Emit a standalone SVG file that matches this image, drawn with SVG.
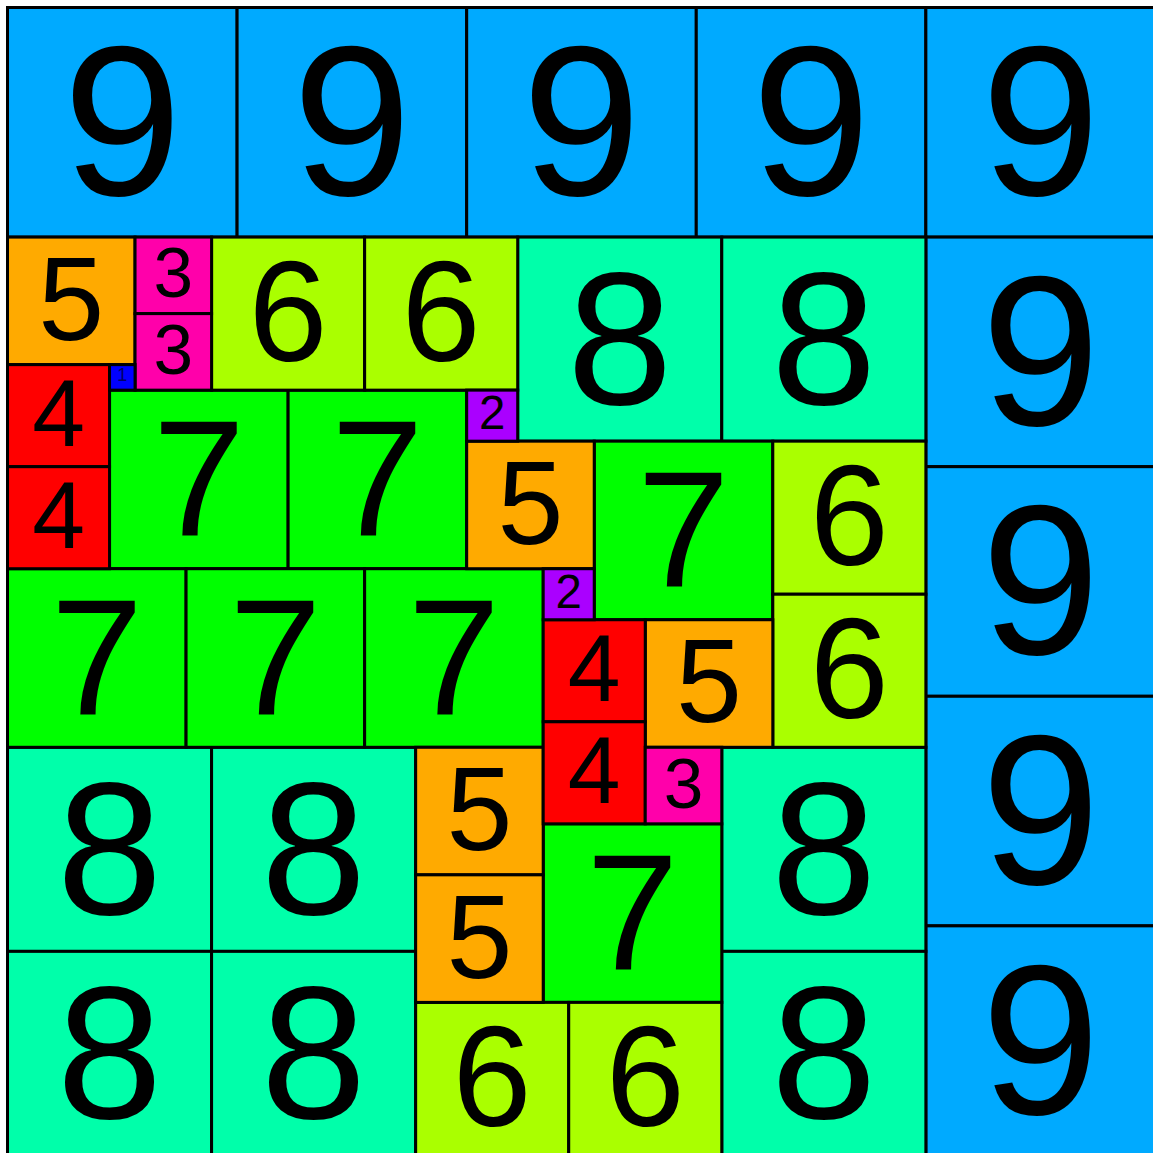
<svg xmlns="http://www.w3.org/2000/svg" width="1153" height="1153" viewBox="0 0 1153 1153">
<style>
rect.s{stroke:#000;stroke-width:3}
.c9{fill:#00AAFF}.c8{fill:#00FFAA}.c7{fill:#00FF00}.c6{fill:#AAFF00}.c5{fill:#FFAA00}.c4{fill:#FF0000}.c3{fill:#FF00AA}.c2{fill:#AA00FF}.c1{fill:#0000FF}
text{font-family:"Liberation Sans",Arial,sans-serif;fill:#000;text-anchor:middle}
.t9{font-size:213.5px}.t8{font-size:189.8px}.t7{font-size:166px}.t6{font-size:142.3px}.t5{font-size:118.6px}.t4{font-size:94.9px}.t3{font-size:71.2px}.t2{font-size:47.4px}.t1{font-size:18px;fill:#000066}
</style>
<rect x="0" y="0" width="1153" height="1153" fill="#fff"/>
<g id="nodes">
<g id="n9a"><rect class="s c9" x="7.5" y="7.5" width="229.59" height="229.59"/><text class="t9" x="122.3" y="195.25">9</text></g>
<g id="n9b"><rect class="s c9" x="237.09" y="7.5" width="229.59" height="229.59"/><text class="t9" x="351.89" y="195.25">9</text></g>
<g id="n9c"><rect class="s c9" x="466.68" y="7.5" width="229.59" height="229.59"/><text class="t9" x="581.48" y="195.25">9</text></g>
<g id="n9d"><rect class="s c9" x="696.27" y="7.5" width="229.59" height="229.59"/><text class="t9" x="811.07" y="195.25">9</text></g>
<g id="n9e"><rect class="s c9" x="925.86" y="7.5" width="229.59" height="229.59"/><text class="t9" x="1040.66" y="195.25">9</text></g>
<g id="n9f"><rect class="s c9" x="925.86" y="237.09" width="229.59" height="229.59"/><text class="t9" x="1040.66" y="424.84">9</text></g>
<g id="n9g"><rect class="s c9" x="925.86" y="466.68" width="229.59" height="229.59"/><text class="t9" x="1040.66" y="654.43">9</text></g>
<g id="n9h"><rect class="s c9" x="925.86" y="696.27" width="229.59" height="229.59"/><text class="t9" x="1040.66" y="884.02">9</text></g>
<g id="n9i"><rect class="s c9" x="925.86" y="925.86" width="229.59" height="229.59"/><text class="t9" x="1040.66" y="1113.61">9</text></g>

<g id="n8a"><rect class="s c8" x="517.7" y="237.09" width="204.08" height="204.08"/><text class="t8" x="619.74" y="403.59">8</text></g>
<g id="n8b"><rect class="s c8" x="721.78" y="237.09" width="204.08" height="204.08"/><text class="t8" x="823.82" y="403.59">8</text></g>
<g id="n8c"><rect class="s c8" x="721.78" y="747.29" width="204.08" height="204.08"/><text class="t8" x="823.82" y="913.79">8</text></g>
<g id="n8d"><rect class="s c8" x="721.78" y="951.37" width="204.08" height="204.08"/><text class="t8" x="823.82" y="1117.87">8</text></g>
<g id="n8e"><rect class="s c8" x="7.5" y="747.29" width="204.08" height="204.08"/><text class="t8" x="109.54" y="913.79">8</text></g>
<g id="n8f"><rect class="s c8" x="211.58" y="747.29" width="204.08" height="204.08"/><text class="t8" x="313.62" y="913.79">8</text></g>
<g id="n8g"><rect class="s c8" x="7.5" y="951.37" width="204.08" height="204.08"/><text class="t8" x="109.54" y="1117.87">8</text></g>
<g id="n8h"><rect class="s c8" x="211.58" y="951.37" width="204.08" height="204.08"/><text class="t8" x="313.62" y="1117.87">8</text></g>

<g id="n7a"><rect class="s c7" x="109.54" y="390.15" width="178.57" height="178.57"/><text class="t7" x="198.83" y="535.4">7</text></g>
<g id="n7b"><rect class="s c7" x="288.11" y="390.15" width="178.57" height="178.57"/><text class="t7" x="377.4" y="535.4">7</text></g>
<g id="n7c"><rect class="s c7" x="594.23" y="441.17" width="178.57" height="178.57"/><text class="t7" x="683.52" y="586.42">7</text></g>
<g id="n7d"><rect class="s c7" x="7.5" y="568.72" width="178.57" height="178.57"/><text class="t7" x="96.79" y="713.97">7</text></g>
<g id="n7e"><rect class="s c7" x="186.07" y="568.72" width="178.57" height="178.57"/><text class="t7" x="275.36" y="713.97">7</text></g>
<g id="n7f"><rect class="s c7" x="364.64" y="568.72" width="178.57" height="178.57"/><text class="t7" x="453.93" y="713.97">7</text></g>
<g id="n7g"><rect class="s c7" x="543.21" y="823.82" width="178.57" height="178.57"/><text class="t7" x="632.5" y="969.07">7</text></g>

<g id="n6a"><rect class="s c6" x="211.58" y="237.09" width="153.06" height="153.06"/><text class="t6" x="288.11" y="361.09">6</text></g>
<g id="n6b"><rect class="s c6" x="364.64" y="237.09" width="153.06" height="153.06"/><text class="t6" x="441.17" y="361.09">6</text></g>
<g id="n6c"><rect class="s c6" x="772.8" y="441.17" width="153.06" height="153.06"/><text class="t6" x="849.33" y="565.17">6</text></g>
<g id="n6d"><rect class="s c6" x="772.8" y="594.23" width="153.06" height="153.06"/><text class="t6" x="849.33" y="718.23">6</text></g>
<g id="n6e"><rect class="s c6" x="415.66" y="1002.39" width="153.06" height="153.06"/><text class="t6" x="492.19" y="1126.39">6</text></g>
<g id="n6f"><rect class="s c6" x="568.72" y="1002.39" width="153.06" height="153.06"/><text class="t6" x="645.25" y="1126.39">6</text></g>

<g id="n5a"><rect class="s c5" x="7.5" y="237.09" width="127.55" height="127.55"/><text class="t5" x="71.28" y="339.84">5</text></g>
<g id="n5b"><rect class="s c5" x="466.68" y="441.17" width="127.55" height="127.55"/><text class="t5" x="530.46" y="543.92">5</text></g>
<g id="n5c"><rect class="s c5" x="645.25" y="619.74" width="127.55" height="127.55"/><text class="t5" x="709.03" y="722.49">5</text></g>
<g id="n5d"><rect class="s c5" x="415.66" y="747.29" width="127.55" height="127.55"/><text class="t5" x="479.44" y="850.04">5</text></g>
<g id="n5e"><rect class="s c5" x="415.66" y="874.84" width="127.55" height="127.55"/><text class="t5" x="479.44" y="977.59">5</text></g>

<g id="n4a"><rect class="s c4" x="7.5" y="364.64" width="102.04" height="102.04"/><text class="t4" x="58.52" y="446.14">4</text></g>
<g id="n4b"><rect class="s c4" x="7.5" y="466.68" width="102.04" height="102.04"/><text class="t4" x="58.52" y="548.18">4</text></g>
<g id="n4c"><rect class="s c4" x="543.21" y="619.74" width="102.04" height="102.04"/><text class="t4" x="594.23" y="701.24">4</text></g>
<g id="n4d"><rect class="s c4" x="543.21" y="721.78" width="102.04" height="102.04"/><text class="t4" x="594.23" y="803.28">4</text></g>

<g id="n3a"><rect class="s c3" x="135.05" y="237.09" width="76.53" height="76.53"/><text class="t3" x="173.32" y="297.34">3</text></g>
<g id="n3b"><rect class="s c3" x="135.05" y="313.62" width="76.53" height="76.53"/><text class="t3" x="173.32" y="373.87">3</text></g>
<g id="n3c"><rect class="s c3" x="645.25" y="747.29" width="76.53" height="76.53"/><text class="t3" x="683.52" y="807.54">3</text></g>

<g id="n2a"><rect class="s c2" x="466.68" y="390.15" width="51.02" height="51.02"/><text class="t2" x="492.19" y="429.15">2</text></g>
<g id="n2b"><rect class="s c2" x="543.21" y="568.72" width="51.02" height="51.02"/><text class="t2" x="568.72" y="607.72">2</text></g>

<g id="n1"><rect class="s c1" x="109.54" y="364.64" width="25.51" height="25.51"/><text class="t1" x="122.3" y="380.5">1</text></g>
</g>
<g id="connectors"/>
</svg>
